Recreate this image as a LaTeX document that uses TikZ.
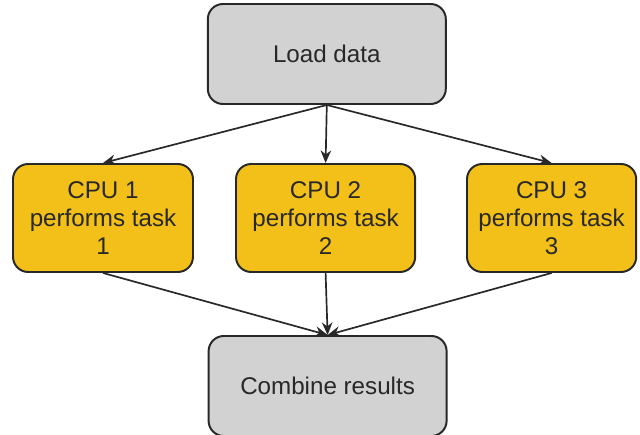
\documentclass[tikz,border=0pt]{standalone}
\usepackage{fontspec}
\setmainfont{Liberation Sans}
\usepackage{tikz}
\usetikzlibrary{arrows.meta,positioning}
\definecolor{cStep}{RGB}{210,210,210}
\definecolor{cCpu}{RGB}{242,192,24}
\definecolor{cLine}{RGB}{40,40,40}

\begin{document}
\begin{tikzpicture}[
    box/.style={draw=cLine,line width=1.4pt,rounded corners=0.38cm,align=center,
      font=\fontsize{17.2}{19.8}\selectfont,text=cLine,inner sep=0pt},
    stepbox/.style={box,fill=cStep,minimum width=5.95cm},
    cpubox/.style={box,fill=cCpu,minimum height=2.7cm},
    flow/.style={draw=cLine,line width=1.2pt,-{Stealth[length=9pt,width=7.5pt]}}]
  \useasboundingbox (0,0) rectangle (16,10.85);
  % top and bottom steps
  \node[stepbox,minimum height=2.5cm] (load) at (8.17,9.5) {Load data};
  \node[stepbox,minimum height=2.5cm] (comb) at (8.19,1.2) {Combine results};
  % the three workers
  \node[cpubox,minimum width=4.5cm] (cpu1) at (2.575,5.4) {CPU 1\\performs task\\1};
  \node[cpubox,minimum width=4.48cm] (cpu2) at (8.14,5.4) {CPU 2\\performs task\\2};
  \node[cpubox,minimum width=4.23cm] (cpu3) at (13.79,5.4) {CPU 3\\performs task\\3};
  \foreach \c in {cpu1,cpu2,cpu3} {
    \draw[flow] (load.south) -- (\c.north);
    \draw[flow] (\c.south) -- (comb.north);
  }
\end{tikzpicture}
\end{document}
